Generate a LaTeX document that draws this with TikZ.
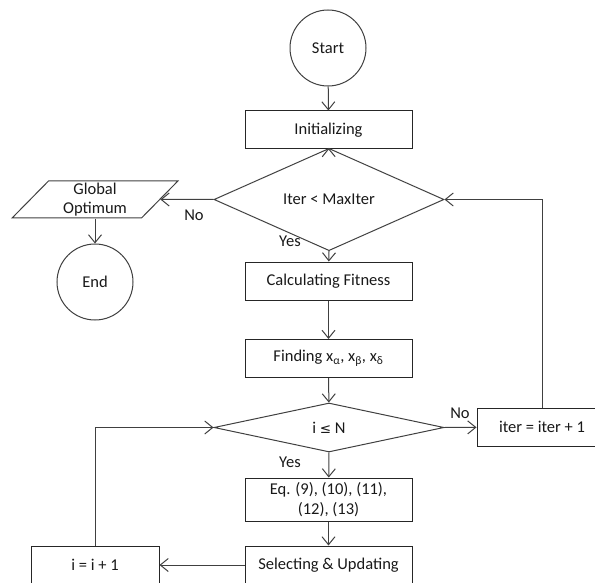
\documentclass[tikz,border=0pt]{standalone}
\usepackage{fontspec}
\setmainfont{Carlito}
\newfontfamily\symfont{DejaVu Sans}
\usetikzlibrary{shapes.geometric,arrows.meta}
\begin{document}
\begin{tikzpicture}[x=1pt,y=-1pt,
  every node/.style={font=\fontsize{16.5}{20}\selectfont, text=black!90},
  line/.style={draw=black!75, line width=1pt},
  arr/.style={line, -{Straight Barb[length=8pt,width=13pt]}},
  box/.style={line, draw=black!85, rectangle, minimum width=167pt, minimum height=38pt, inner sep=0pt},
  term/.style={line, circle, minimum size=76pt, inner sep=0pt},
  decision/.style={line, diamond, minimum width=230pt, minimum height=49pt, inner sep=0pt},
  io/.style={line, trapezium, trapezium left angle=53, trapezium right angle=127,
             trapezium stretches=true, minimum width=166pt, minimum height=37pt, inner sep=0pt, align=center, font=\fontsize{16.5}{19}\selectfont},
  lbl/.style={inner sep=0pt}
]
\useasboundingbox (0,0) rectangle (595,583);
\clip (0,0) rectangle (595,583);

\node[term] (start) at (328,48) {Start};
\node[box] (init) at (328.5,130) {Initializing};
\node[decision] (d1) at (329,199.5) {Iter < MaxIter};
\node[io] (go) at (95,199.5) {Global\\Optimum};
\node[term] (end) at (95,282) {End};
\node[box] (calc) at (328.5,281) {Calculating Fitness};
\node[box] (find) at (328.5,358.5) {Finding x\textsubscript{α}, x\textsubscript{β}, x\textsubscript{δ}};
\node[decision] (d2) at (329,427.5) {i {\symfont\fontsize{13.5}{16}\selectfont ≤} N};
\node[box, minimum width=130pt] (iter) at (542,427) {iter = iter + 1};
\node[box, minimum height=43pt, align=center] (eq) at (328.5,499.5) {Eq. (9), (10), (11),\\(12), (13)};
\node[box] (sel) at (328.5,565) {Selecting \& Updating};
\node[box, minimum width=128pt] (inc) at (95,565) {i = i + 1};

\node[lbl] (no1) at (194,215) {No};
\node[lbl] (yes1) at (290,241) {Yes};
\node[lbl] (no2) at (460,413) {No};
\node[lbl] (yes2) at (290,462) {Yes};

\draw[arr] (start) -- (init);
\draw[arr] (init) -- (d1);
\draw[arr] (d1.west) -- (go);
\draw[arr] (go) -- (end);
\draw[arr] (d1.south) -- (calc);
\draw[arr] (calc) -- (find);
\draw[arr] (find) -- (d2);
\draw[arr] (d2.east) -- (iter);
\draw[arr] (d2.south) -- (eq);
\draw[arr] (eq) -- (sel);
\draw[arr] (sel) -- (inc);
\draw[arr] (inc.north) |- (d2.west);
\draw[arr] (iter.north) |- (d1.east);
\end{tikzpicture}
\end{document}
